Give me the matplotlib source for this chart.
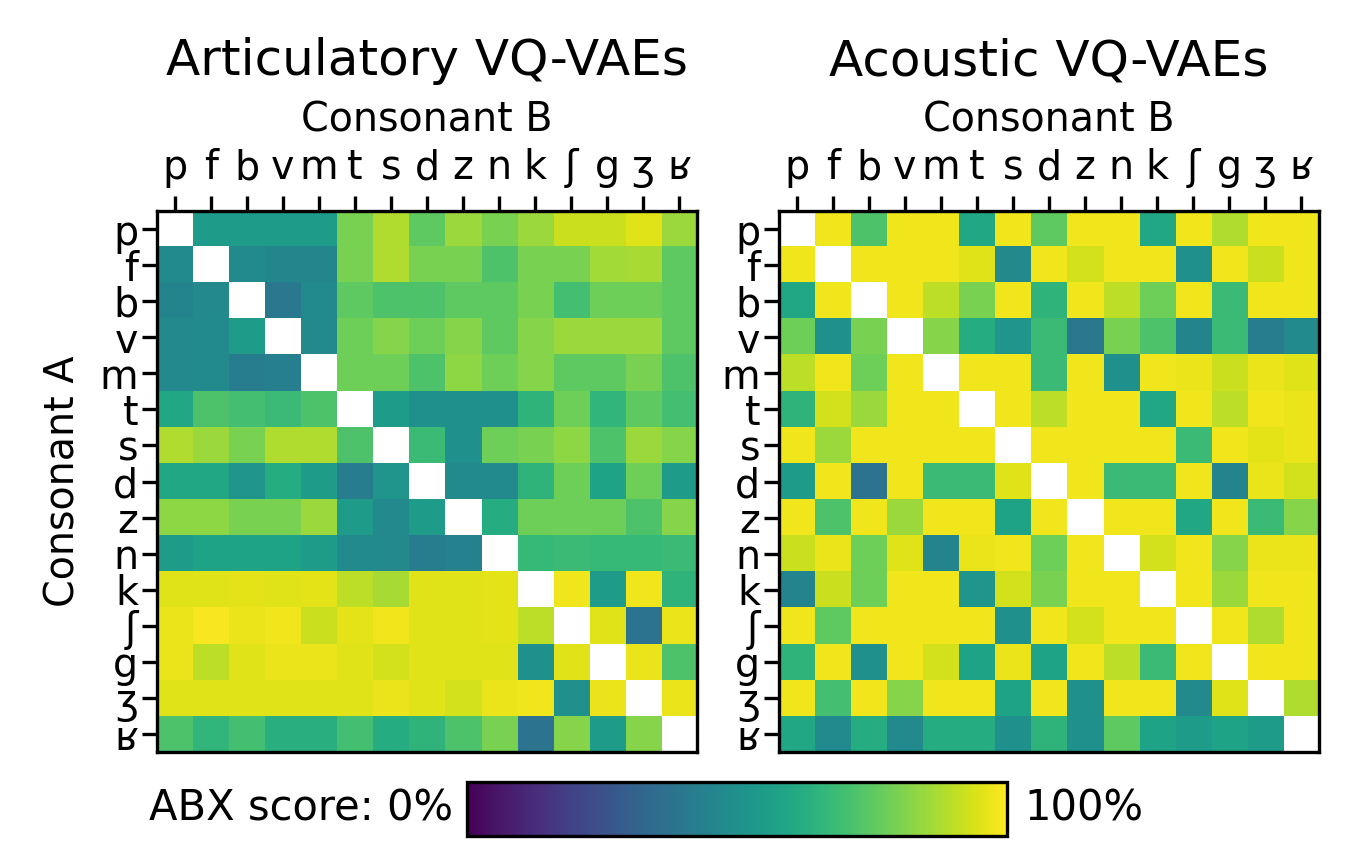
import matplotlib
matplotlib.use("Agg")
import matplotlib.pyplot as plt
import numpy as np

CONSONANTS = ["p", "f", "b", "v", "m", "t", "s", "d", "z", "n", "k", "ʃ", "g", "ʒ", "ʁ"]

# ABX scores (fraction), rows = consonant A, cols = consonant B; diagonal left empty
ARTICULATORY = [
    [np.nan, 0.55, 0.55, 0.55, 0.55, 0.80, 0.88, 0.75, 0.85, 0.80, 0.85, 0.92, 0.92, 0.95, 0.85],
    [0.48, np.nan, 0.48, 0.46, 0.46, 0.80, 0.88, 0.80, 0.80, 0.72, 0.80, 0.80, 0.86, 0.87, 0.75],
    [0.45, 0.47, np.nan, 0.40, 0.48, 0.75, 0.72, 0.72, 0.75, 0.75, 0.80, 0.70, 0.78, 0.78, 0.75],
    [0.47, 0.48, 0.55, np.nan, 0.47, 0.78, 0.82, 0.78, 0.82, 0.75, 0.82, 0.85, 0.85, 0.85, 0.75],
    [0.47, 0.48, 0.42, 0.43, np.nan, 0.78, 0.78, 0.72, 0.83, 0.78, 0.82, 0.75, 0.75, 0.80, 0.72],
    [0.60, 0.72, 0.70, 0.68, 0.72, np.nan, 0.55, 0.50, 0.50, 0.50, 0.65, 0.78, 0.66, 0.75, 0.70],
    [0.88, 0.85, 0.80, 0.88, 0.88, 0.72, np.nan, 0.68, 0.50, 0.78, 0.80, 0.83, 0.72, 0.85, 0.82],
    [0.60, 0.60, 0.52, 0.62, 0.55, 0.42, 0.52, np.nan, 0.48, 0.48, 0.65, 0.78, 0.58, 0.78, 0.55],
    [0.83, 0.83, 0.80, 0.80, 0.85, 0.55, 0.47, 0.55, np.nan, 0.62, 0.78, 0.78, 0.78, 0.72, 0.82],
    [0.55, 0.58, 0.58, 0.58, 0.55, 0.48, 0.47, 0.42, 0.44, np.nan, 0.67, 0.68, 0.67, 0.67, 0.68],
    [0.95, 0.95, 0.96, 0.95, 0.96, 0.90, 0.87, 0.95, 0.95, 0.96, np.nan, 0.98, 0.55, 0.98, 0.65],
    [0.97, 0.99, 0.97, 0.98, 0.92, 0.96, 0.98, 0.95, 0.95, 0.96, 0.90, np.nan, 0.95, 0.38, 0.97],
    [0.97, 0.90, 0.95, 0.97, 0.97, 0.95, 0.93, 0.95, 0.95, 0.95, 0.50, 0.95, np.nan, 0.97, 0.72],
    [0.95, 0.95, 0.95, 0.95, 0.95, 0.95, 0.97, 0.95, 0.93, 0.97, 0.98, 0.50, 0.97, np.nan, 0.97],
    [0.72, 0.66, 0.70, 0.63, 0.63, 0.70, 0.62, 0.65, 0.72, 0.80, 0.38, 0.82, 0.55, 0.82, np.nan],
]

ACOUSTIC = [
    [np.nan, 0.98, 0.72, 0.98, 0.98, 0.60, 0.98, 0.75, 0.98, 0.98, 0.60, 0.98, 0.88, 0.98, 0.98],
    [0.98, np.nan, 0.98, 0.98, 0.98, 0.95, 0.47, 0.98, 0.93, 0.98, 0.98, 0.50, 0.98, 0.92, 0.98],
    [0.60, 0.98, np.nan, 0.98, 0.90, 0.80, 0.98, 0.65, 0.98, 0.90, 0.78, 0.98, 0.68, 0.98, 0.98],
    [0.78, 0.50, 0.80, np.nan, 0.82, 0.62, 0.52, 0.68, 0.40, 0.80, 0.72, 0.45, 0.68, 0.42, 0.48],
    [0.90, 0.98, 0.78, 0.98, np.nan, 0.98, 0.98, 0.68, 0.98, 0.50, 0.98, 0.97, 0.92, 0.97, 0.95],
    [0.65, 0.93, 0.85, 0.98, 0.98, np.nan, 0.98, 0.90, 0.98, 0.98, 0.60, 0.98, 0.90, 0.98, 0.97],
    [0.98, 0.85, 0.98, 0.98, 0.98, 0.98, np.nan, 0.98, 0.98, 0.98, 0.98, 0.68, 0.98, 0.96, 0.97],
    [0.55, 0.98, 0.38, 0.98, 0.68, 0.68, 0.95, np.nan, 0.98, 0.68, 0.68, 0.98, 0.45, 0.97, 0.93],
    [0.98, 0.72, 0.98, 0.85, 0.98, 0.98, 0.58, 0.98, np.nan, 0.98, 0.98, 0.60, 0.98, 0.68, 0.82],
    [0.92, 0.97, 0.78, 0.95, 0.45, 0.97, 0.98, 0.78, 0.98, np.nan, 0.93, 0.98, 0.82, 0.97, 0.97],
    [0.45, 0.92, 0.78, 0.98, 0.98, 0.52, 0.93, 0.80, 0.98, 0.98, np.nan, 0.98, 0.85, 0.98, 0.98],
    [0.98, 0.75, 0.98, 0.98, 0.98, 0.98, 0.50, 0.98, 0.93, 0.98, 0.98, np.nan, 0.98, 0.88, 0.98],
    [0.65, 0.98, 0.50, 0.98, 0.93, 0.58, 0.97, 0.58, 0.98, 0.90, 0.68, 0.98, np.nan, 0.98, 0.98],
    [0.98, 0.70, 0.98, 0.82, 0.98, 0.98, 0.58, 0.98, 0.50, 0.98, 0.98, 0.48, 0.95, np.nan, 0.88],
    [0.60, 0.48, 0.62, 0.48, 0.62, 0.62, 0.50, 0.65, 0.50, 0.75, 0.58, 0.55, 0.58, 0.55, np.nan],
]

TITLES = ["Articulatory VQ-VAEs", "Acoustic VQ-VAEs"]


def draw_matrix(ax, values, title, show_ylabel):
    im = ax.imshow(np.array(values), cmap="viridis", vmin=0, vmax=1,
                   interpolation="nearest", aspect="auto")
    ticks = np.arange(len(CONSONANTS))
    ax.set_xticks(ticks)
    ax.set_yticks(ticks)
    ax.set_xticklabels(CONSONANTS, fontsize=9.5)
    ax.set_yticklabels(CONSONANTS, fontsize=9.5)
    ax.xaxis.tick_top()
    ax.xaxis.set_label_position("top")
    ax.tick_params(axis="x", pad=2)
    ax.tick_params(axis="y", pad=1)
    ax.set_xlabel("Consonant B", fontsize=9.5, labelpad=4)
    if show_ylabel:
        ax.set_ylabel("Consonant A", fontsize=9.5, labelpad=4)
    ax.set_title(title, fontsize=12, pad=6)
    return im


def main() -> None:
    fig = plt.figure(figsize=(1348 / 300, 867 / 300), dpi=300)
    ax_left = fig.add_axes([0.1165, 0.1326, 0.4006, 0.624])
    ax_right = fig.add_axes([0.5779, 0.1326, 0.4006, 0.624])

    im = draw_matrix(ax_left, ARTICULATORY, TITLES[0], True)
    draw_matrix(ax_right, ACOUSTIC, TITLES[1], False)

    cax = fig.add_axes([0.3464, 0.0358, 0.4006, 0.0623])
    cbar = fig.colorbar(im, cax=cax, orientation="horizontal")
    cbar.set_ticks([])
    cbar.outline.set_linewidth(0.8)
    fig.text(0.336, 0.067, "ABX score: 0%", ha="right", va="center", fontsize=10)
    fig.text(0.760, 0.067, "100%", ha="left", va="center", fontsize=10)

    fig.savefig("out.png", dpi=300)
    plt.close(fig)


if __name__ == "__main__":
    main()
